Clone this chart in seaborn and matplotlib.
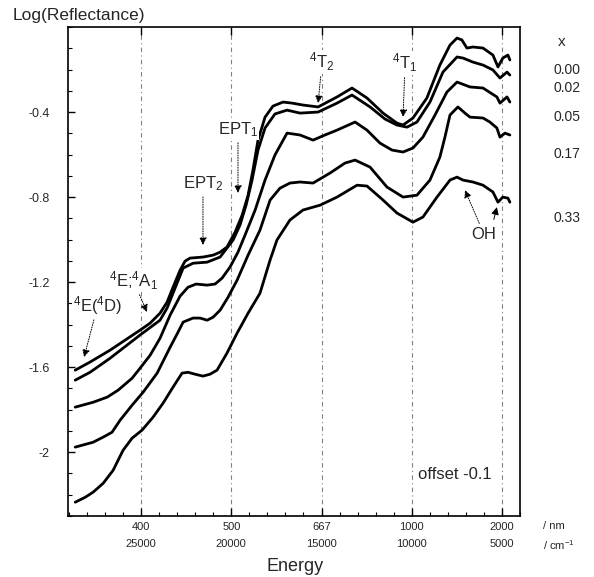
import pandas as pd
import matplotlib
matplotlib.use('Agg')
import matplotlib.pyplot as plt
import seaborn as sns
from matplotlib.ticker import FixedLocator, MultipleLocator

# wavenumber (cm-1) and log(reflectance), one pair per sample
nu_000 = [28650, 27830, 26720, 25890, 25060, 24500, 23950, 23560, 23230, 22840, 22560, 22290,
          21570, 21010, 20620, 20240, 19790, 19400, 19070, 18800, 18520, 18130, 17690, 17130,
          16630, 16030, 15190, 14140, 13310, 12480, 11590, 10820, 10480, 9930, 9160, 8440,
          7880, 7490, 7220, 6940, 6610, 6050, 5500, 5220, 4950, 4670, 4560]
logR_000 = [-1.614, -1.576, -1.520, -1.473, -1.426, -1.393, -1.346, -1.294, -1.224, -1.144, -1.101, -1.087,
            -1.082, -1.073, -1.059, -1.035, -0.965, -0.885, -0.791, -0.673, -0.532, -0.424, -0.372, -0.353,
            -0.358, -0.367, -0.376, -0.329, -0.287, -0.334, -0.405, -0.452, -0.461, -0.428, -0.334, -0.179,
            -0.085, -0.052, -0.061, -0.099, -0.094, -0.099, -0.132, -0.188, -0.146, -0.132, -0.155]

nu_002 = [28650, 27830, 26720, 25060, 23950, 23560, 23230, 22670, 22120, 21340, 20620, 19900,
          19520, 19180, 18850, 18520, 18130, 17580, 16910, 16190, 15190, 14140, 13310, 12310,
          11480, 10820, 10260, 9710, 8990, 8270, 7490, 7160, 6610, 6050, 5500, 5110, 4720, 4560]
logR_002 = [-1.661, -1.624, -1.558, -1.449, -1.379, -1.322, -1.252, -1.134, -1.111, -1.106, -1.082, -1.002,
            -0.932, -0.838, -0.720, -0.579, -0.475, -0.409, -0.391, -0.405, -0.400, -0.358, -0.320, -0.376,
            -0.433, -0.461, -0.471, -0.447, -0.353, -0.212, -0.141, -0.146, -0.165, -0.179, -0.202, -0.240,
            -0.212, -0.226]

nu_005 = [28650, 27660, 26880, 26270, 25500, 25060, 24500, 23950, 23390, 22840, 22400, 21950,
          21340, 20900, 20510, 20070, 19630, 19240, 18680, 18130, 17580, 16910, 16190, 15470,
          14810, 14140, 13140, 12480, 11760, 11090, 10480, 9930, 9380, 8710, 8050, 7490,
          6770, 6050, 5280, 5110, 4720, 4560]
logR_005 = [-1.788, -1.765, -1.741, -1.708, -1.652, -1.605, -1.544, -1.464, -1.355, -1.266, -1.224, -1.209,
            -1.214, -1.209, -1.181, -1.129, -1.059, -0.979, -0.861, -0.720, -0.602, -0.499, -0.508, -0.532,
            -0.508, -0.485, -0.447, -0.485, -0.546, -0.579, -0.588, -0.569, -0.518, -0.414, -0.306, -0.259,
            -0.282, -0.287, -0.329, -0.358, -0.329, -0.353]

nu_017 = [28650, 27660, 27100, 26610, 26160, 25500, 24890, 24110, 23390, 22950, 22670, 22120,
          21730, 21340, 21010, 20620, 20180, 19680, 19070, 18410, 17850, 17300, 16750, 16190,
          15470, 14530, 13700, 13140, 12310, 11370, 10480, 9710, 8990, 8440, 8160, 7880,
          7440, 7050, 6770, 6050, 5670, 5280, 5110, 4830, 4560]
logR_017 = [-1.976, -1.953, -1.929, -1.906, -1.849, -1.779, -1.718, -1.628, -1.506, -1.435, -1.388, -1.369,
            -1.369, -1.379, -1.365, -1.332, -1.271, -1.191, -1.073, -0.955, -0.814, -0.758, -0.734, -0.729,
            -0.734, -0.687, -0.640, -0.626, -0.659, -0.753, -0.800, -0.791, -0.720, -0.612, -0.518, -0.414,
            -0.376, -0.405, -0.424, -0.428, -0.447, -0.475, -0.518, -0.499, -0.508]

nu_033 = [28650, 28100, 27660, 27100, 26550, 26000, 25500, 24945, 24335, 23780, 23230, 22730,
          22400, 22010, 21570, 21180, 20790, 20240, 19680, 19070, 18410, 17850, 17470, 16750,
          16030, 15080, 14140, 13030, 12480, 11590, 10820, 9930, 9380, 8600, 7880, 7490,
          7160, 6610, 6050, 5500, 5220, 4950, 4670, 4560]
logR_033 = [-2.235, -2.212, -2.188, -2.146, -2.085, -1.991, -1.934, -1.896, -1.835, -1.769, -1.694, -1.628,
            -1.624, -1.633, -1.642, -1.633, -1.614, -1.534, -1.440, -1.346, -1.252, -1.096, -1.002, -0.908,
            -0.861, -0.838, -0.800, -0.744, -0.748, -0.814, -0.875, -0.918, -0.894, -0.800, -0.720, -0.706,
            -0.720, -0.729, -0.744, -0.776, -0.824, -0.800, -0.805, -0.824]

x_labels = ['0.00', '0.02', '0.05', '0.17', '0.33']
wn_ticks = [25000, 20000, 15000, 10000, 5000]
nm_ticks = [400, 500, 667, 1000, 2000]
y_ticks = [-2.0, -1.6, -1.2, -0.8, -0.4]
y_ticklabels = ['-2', '-1.6', '-1.2', '-0.8', '-0.4']

series = [(x_labels[0], nu_000, logR_000), (x_labels[1], nu_002, logR_002),
          (x_labels[2], nu_005, logR_005), (x_labels[3], nu_017, logR_017),
          (x_labels[4], nu_033, logR_033)]
df = pd.concat([pd.DataFrame({'nu': n, 'logR': r, 'x': lab}) for lab, n, r in series])

sns.set_style('ticks')
plt.rcParams['font.family'] = ['Liberation Sans', 'DejaVu Sans']
plt.rcParams['mathtext.fontset'] = 'custom'
plt.rcParams['mathtext.rm'] = 'Liberation Sans'
plt.rcParams['mathtext.it'] = 'Liberation Sans:italic'

fig = plt.figure(figsize=(5.94, 5.77), dpi=100)
ax = fig.add_axes([0.1145, 0.1057, 0.7609, 0.8475])

sns.lineplot(data=df, x='nu', y='logR', units='x', estimator=None, color='black',
             lw=2.0, legend=False, ax=ax)

ax.set_xlim(29050, 4000)
ax.set_ylim(-2.3, 0)

ax.xaxis.set_major_locator(FixedLocator(wn_ticks))
ax.set_xticklabels([f'{a}\n{b}' for a, b in zip(nm_ticks, wn_ticks)], fontsize=8)
for lab in ax.get_xticklabels():
    lab.set_linespacing(1.95)
ax.xaxis.set_minor_locator(MultipleLocator(1000))
ax.yaxis.set_major_locator(FixedLocator(y_ticks))
ax.set_yticklabels(y_ticklabels, fontsize=9)
ax.yaxis.set_minor_locator(MultipleLocator(0.1))

ax.tick_params(which='both', direction='in', color='black')
ax.tick_params(axis='x', which='major', top=True, length=6, width=1, pad=4)
ax.tick_params(axis='x', which='minor', top=False, length=3, width=0.8)
ax.tick_params(axis='y', which='major', length=5, width=1, pad=13)
ax.tick_params(axis='y', which='minor', length=3, width=0.8)
for s in ax.spines.values():
    s.set_linewidth(1.2)
    s.set_color('black')

ax.grid(axis='x', which='major', color='0.5', lw=0.8, linestyle=(0, (4, 3, 1, 3)))
ax.set_xlabel('')
ax.set_ylabel('')
fig.text(0.497, 0.018, 'Energy', fontsize=13, ha='center', va='center')
fig.text(0.022, 0.974, 'Log(Reflectance)', fontsize=12.5, va='center', ha='left')

# sample labels on the right
ax.text(1.093, 0.969, 'x', transform=ax.transAxes, fontsize=11, ha='center', va='center')
for lab, yy in zip(x_labels, [0.912, 0.875, 0.816, 0.740, 0.609]):
    ax.text(1.104, yy, lab, transform=ax.transAxes, fontsize=10, ha='center', va='center')
ax.text(1.051, -0.021, '/ nm', transform=ax.transAxes, fontsize=8, ha='left', va='center')
ax.text(1.051, -0.059, r'/ cm$\mathregular{^{-1}}$', transform=ax.transAxes, fontsize=8,
        ha='left', va='center')

arrow = dict(arrowstyle='-|>', color='black', lw=0.7, linestyle=(0, (1, 1.5)),
             mutation_scale=11, shrinkA=2, shrinkB=0)
box = dict(facecolor='white', edgecolor='none', pad=0.5)
notes = [
    (r'$\mathregular{^4T_2}$', (14970, -0.165), (15190, -0.358)),
    (r'$\mathregular{^4T_1}$', (10370, -0.169), (10480, -0.424)),
    (r'EPT$\mathregular{_1}$', (19630, -0.485), (19630, -0.781)),
    (r'EPT$\mathregular{_2}$', (21570, -0.739), (21570, -1.026)),
    (r'$\mathregular{^4E}$;$\mathregular{^4A_1}$', (25440, -1.191), (24670, -1.341)),
    (r'$\mathregular{^4E(^4D)}$', (27400, -1.308), (28160, -1.553)),
    ('OH', (6000, -0.974), (7050, -0.767)),
]
for txt, tpos, tip in notes:
    ax.annotate(txt, xy=tip, xytext=tpos, fontsize=12, ha='center', va='center',
                bbox=box, arrowprops=arrow)
ax.annotate('', xy=(5280, -0.847), xytext=(5450, -0.905),
            arrowprops=dict(arrowstyle='-|>', color='black', lw=0.7, mutation_scale=11,
                            shrinkA=0, shrinkB=0))
ax.text(7600, -2.104, 'offset -0.1', fontsize=12, ha='center', va='center')

fig.savefig('out.png', dpi=100)
